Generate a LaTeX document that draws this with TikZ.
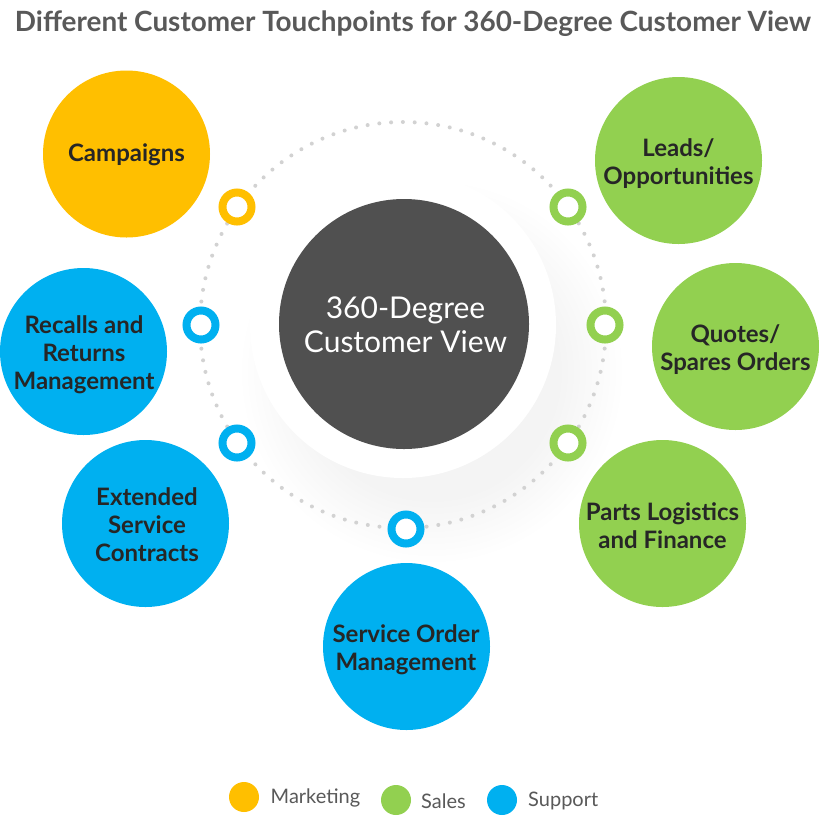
\documentclass[tikz,border=0pt]{standalone}
\usepackage{fontspec}
\setmainfont{Lato}
\definecolor{mktcolor}{HTML}{FFBF00}
\definecolor{salescolor}{HTML}{92D050}
\definecolor{supportcolor}{HTML}{00B0F0}
\definecolor{hubcolor}{HTML}{505050}
\definecolor{labelcolor}{HTML}{262626}
\definecolor{greytext}{HTML}{595959}
\tikzset{
  touch/.style={circle, minimum size=167pt, inner sep=0pt},
  touchtext/.style={align=center, text=labelcolor, inner sep=0pt,
    font=\fontsize{24}{28}\selectfont\bfseries},
  pin/.style={circle, draw=#1, line width=8pt, fill=white, minimum size=29pt, inner sep=0pt},
  swatch/.style={circle, fill=#1, minimum size=30pt, inner sep=0pt},
  legendtext/.style={text=greytext, font=\fontsize{20}{24}\selectfont, anchor=west, inner sep=0pt}
}
\begin{document}
\begin{tikzpicture}[x=1pt, y=-1pt]
  % Define dimensions
  \def\R{203}
  \useasboundingbox (0,0) rectangle (819,815);
  \fill[white] (0,0) rectangle (819,815);
  \coordinate (C) at (403,325);

  % Soft shadow
  \foreach \r in {130,136,...,190}
      \fill[black, opacity=0.004] (432,372) circle (\r);
  \fill[white] (C) circle (153);

  % Dotted ring
  \draw[gray!35, line width=4pt, line cap=round, dash pattern=on 0pt off 11.81pt] (C) circle (\R);

  % Hub
  \node[circle, fill=hubcolor, minimum size=250pt, inner sep=0pt] (hub) at (404,324) {};
  \node[align=center, text=white, inner sep=0pt, font=\fontsize{30}{34}\selectfont] (hubtext) at (405.5,325)
      {360-Degree\\Customer View};

  % Title
  \node[text=greytext, font=\fontsize{27.9}{32}\selectfont\bfseries, inner sep=0pt] (title) at (413,24)
      {Different Customer Touchpoints for 360-Degree Customer View};

  % Touchpoints
  \node[touch, fill=mktcolor] (campaigns) at (126.5,154) {};
  \node[touch, fill=salescolor] (leads) at (678.5,160.5) {};
  \node[touch, fill=salescolor] (quotes) at (735.5,346.5) {};
  \node[touch, fill=salescolor] (parts) at (662.5,523.5) {};
  \node[touch, fill=supportcolor] (service) at (406.5,646.5) {};
  \node[touch, fill=supportcolor] (extended) at (145.5,523.5) {};
  \node[touch, fill=supportcolor] (recalls) at (83.5,351.5) {};

  \node[touchtext] (campaignstext) at (126.5,155) {Campaigns};
  \node[touchtext] (leadstext) at (678.5,164) {Leads/\\Opportunities};
  \node[touchtext] (quotestext) at (735.5,350) {Quotes/\\Spares Orders};
  \node[touchtext] (partstext) at (662.5,526) {Parts Logistics\\and Finance};
  \node[touchtext] (servicetext) at (406,650) {Service Order\\Management};
  \node[touchtext] (extendedtext) at (147,524.5) {Extended\\Service\\Contracts};
  \node[touchtext] (recallstext) at (84,354.5) {Recalls and\\Returns\\Management};

  % Pins on the ring
  \node[pin=mktcolor] (pinA) at (237,207) {};
  \node[pin=salescolor] (pinB) at (568,207) {};
  \node[pin=supportcolor] (pinC) at (201,325) {};
  \node[pin=salescolor] (pinD) at (605,325) {};
  \node[pin=supportcolor] (pinE) at (237,443) {};
  \node[pin=salescolor] (pinF) at (568,443) {};
  \node[pin=supportcolor] (pinG) at (406,529) {};

  % Legend
  \node[swatch=mktcolor] (keyA) at (244,797) {};
  \node[swatch=salescolor] (keyB) at (396,800) {};
  \node[swatch=supportcolor] (keyC) at (502,800) {};
  \node[legendtext] (textA) at (270.5,798) {Marketing};
  \node[legendtext] (textB) at (421,801) {Sales};
  \node[legendtext] (textC) at (528,801) {Support};
\end{tikzpicture}
\end{document}
